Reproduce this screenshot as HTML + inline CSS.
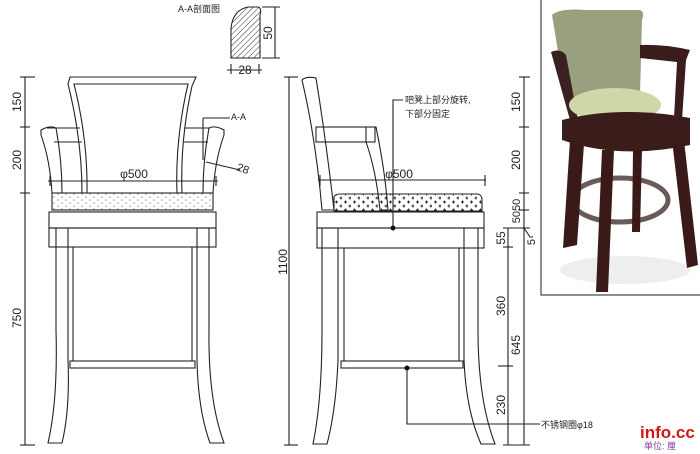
<!DOCTYPE html>
<html><head><meta charset="utf-8"><style>
html,body{margin:0;padding:0;background:#fff;width:700px;height:454px;overflow:hidden}
text{font-family:"Liberation Sans","Noto Sans CJK SC",sans-serif;fill:#222}
</style></head><body>
<svg width="700" height="454" viewBox="0 0 700 454" xmlns="http://www.w3.org/2000/svg">
<defs>
<pattern id="dots" width="8" height="6" patternUnits="userSpaceOnUse"><circle cx="2" cy="2" r="0.8" fill="#999"/><circle cx="6" cy="5" r="0.8" fill="#999"/></pattern>
<pattern id="cross" width="9" height="8" patternUnits="userSpaceOnUse"><path d="M2 2h3M3.5 0.5v3M6.5 6h3M8 4.5v3" stroke="#222" stroke-width="0.9"/></pattern>
<pattern id="hatch" width="4" height="4" patternUnits="userSpaceOnUse" patternTransform="rotate(45)"><line x1="0" y1="0" x2="0" y2="4" stroke="#333" stroke-width="1"/></pattern>
</defs>
<g fill="none" stroke="#222" stroke-width="1.1">
<!-- FRONT VIEW -->
<line x1="25" y1="77" x2="25" y2="445"/>
<line x1="20" y1="77" x2="35" y2="77"/><line x1="20" y1="127" x2="30" y2="127"/><line x1="20" y1="193" x2="30" y2="193"/><line x1="20" y1="445" x2="35" y2="445"/>
<path d="M70 77 L196 77 L192 86 Q180 140 182 193 L177 193 Q175 140 188 84 L74 84 Q88 140 87 193 L82 193 Q82 140 68 84 Z"/>
<line x1="74" y1="84" x2="188" y2="84"/>
<path d="M41 130 Q50 125 56 128 Q62 160 62 193 L52 193 Q50 160 41 135 Z"/>
<path d="M224 130 Q215 125 209 128 Q203 160 203 193 L213 193 Q215 160 224 135 Z"/>
<line x1="47" y1="128" x2="80" y2="128"/><line x1="54" y1="142" x2="82" y2="142"/>
<line x1="185" y1="128" x2="210" y2="128"/><line x1="184" y1="142" x2="208" y2="142"/>
<line x1="203" y1="118" x2="203" y2="160"/><line x1="203" y1="118" x2="230" y2="118"/>
<line x1="206" y1="162" x2="240" y2="170"/>
<line x1="48" y1="181" x2="218" y2="181"/><line x1="50" y1="176" x2="50" y2="186"/><line x1="216" y1="176" x2="216" y2="186"/>
<rect x="52" y="193" width="161" height="17" fill="url(#dots)"/>
<rect x="49" y="212" width="167" height="16"/>
<rect x="49" y="228" width="167" height="19"/>
<path d="M56 228 L68 228 L68 360 Q70 410 62 443 L48 443 Q58 400 56 330 Z"/>
<path d="M197 228 L209 228 L209 330 Q208 400 224 443 L210 443 Q198 410 197 360 Z"/>
<line x1="73" y1="247" x2="73" y2="361"/><line x1="192" y1="247" x2="192" y2="361"/>
<rect x="70" y="361" width="125" height="7"/>
<path d="M231 58 L231 28 Q233 10 248 7 L258 7 Q262 8 260 15 L260 58 Z" fill="url(#hatch)"/>
<line x1="275" y1="7" x2="275" y2="58"/><line x1="262" y1="7" x2="280" y2="7"/><line x1="262" y1="58" x2="280" y2="58"/>
<line x1="227" y1="70" x2="262" y2="70"/><line x1="231" y1="64" x2="231" y2="74"/><line x1="259" y1="64" x2="259" y2="74"/>

<!-- SIDE VIEW -->
<line x1="289" y1="77" x2="289" y2="445"/><line x1="284" y1="77" x2="298" y2="77"/><line x1="284" y1="445" x2="298" y2="445"/>
<path d="M302 80 Q306 76 316 78 Q326 140 334 210 L322 210 Q316 140 302 80 Z"/>
<rect x="316" y="127" width="59" height="15"/>
<path d="M366 127 L376 127 Q385 170 388 210 L380 210 Q376 170 366 142 Z"/>
<line x1="318" y1="180" x2="486" y2="180"/><line x1="320" y1="175" x2="320" y2="186"/><line x1="485" y1="175" x2="485" y2="186"/>
<path d="M334 211 L334 197 Q335 194 340 194 L478 194 Q482 195 482 200 L482 211 Z" fill="url(#cross)"/>
<rect x="317" y="212" width="167" height="16"/>
<rect x="317" y="228" width="167" height="20"/>
<path d="M322 228 L338 228 L338 360 Q336 410 327 444 L313 444 Q322 400 322 330 Z"/>
<path d="M464 228 L478 228 L478 330 Q478 400 495 444 L481 444 Q466 410 464 360 Z"/>
<line x1="344" y1="248" x2="344" y2="361"/><line x1="459" y1="248" x2="459" y2="361"/>
<rect x="341" y="361" width="122" height="7"/>
<polyline points="393,228 393,100 403,100"/>
<polyline points="407,368 407,424 540,424"/>
<line x1="524" y1="77" x2="524" y2="445"/>
<line x1="519" y1="77" x2="530" y2="77"/><line x1="519" y1="127" x2="529" y2="127"/><line x1="519" y1="193" x2="529" y2="193"/><line x1="519" y1="210" x2="529" y2="210"/><line x1="519" y1="228" x2="529" y2="228"/>
<line x1="508" y1="228" x2="508" y2="445"/>
<line x1="503" y1="228" x2="530" y2="228"/><line x1="503" y1="247" x2="513" y2="247"/><line x1="498" y1="366" x2="513" y2="366"/><line x1="503" y1="445" x2="530" y2="445"/>
<polyline points="524,228 530,237 533,237"/>
<rect x="541" y="-1" width="160" height="296" stroke="#333"/>
</g>
<circle cx="393" cy="228" r="2.5" fill="#111"/><circle cx="407" cy="368" r="2.5" fill="#111"/>
<g font-size="12">
<text transform="translate(21,102) rotate(-90)" text-anchor="middle">150</text>
<text transform="translate(21,160) rotate(-90)" text-anchor="middle">200</text>
<text transform="translate(21,318) rotate(-90)" text-anchor="middle">750</text>
<text x="134" y="178" text-anchor="middle">φ500</text>
<text transform="translate(236,170) rotate(20)" font-size="11">28</text>
<text transform="translate(272,33) rotate(-90)" text-anchor="middle">50</text>
<text x="245" y="74" text-anchor="middle">28</text>
<text transform="translate(287,262) rotate(-90)" text-anchor="middle">1100</text>
<text x="399" y="178" text-anchor="middle">φ500</text>
<text transform="translate(520,102) rotate(-90)" text-anchor="middle">150</text>
<text transform="translate(520,160) rotate(-90)" text-anchor="middle">200</text>
<text transform="translate(520,211) rotate(-90)" text-anchor="middle" font-size="11">5050</text>
<text transform="translate(505,238) rotate(-90)" text-anchor="middle">55</text>
<text transform="translate(505,306) rotate(-90)" text-anchor="middle">360</text>
<text transform="translate(520,345) rotate(-90)" text-anchor="middle">645</text>
<text transform="translate(505,405) rotate(-90)" text-anchor="middle">230</text>
<text transform="translate(535,242) rotate(-90)" text-anchor="middle" font-size="11">5</text>
</g>
<g font-size="9">
<text x="178" y="12">A-A剖面图</text>
<text x="231" y="120">A-A</text>
<text x="405" y="103">吧凳上部分旋转,</text>
<text x="405" y="117">下部分固定</text>
<text x="541" y="428">不锈钢圈φ18</text>
</g>
<text x="640" y="438" font-family="Liberation Serif,serif" font-weight="bold" font-size="17" style="fill:#d01818">info.cc</text>
<text x="644" y="449" font-size="9" style="fill:#8a3aa0">单位: 厘</text>
<!-- photo -->
<g>
<ellipse cx="625" cy="270" rx="65" ry="14" fill="#eeeeee"/>
<path d="M552 15 Q560 8 585 10 L640 10 Q645 12 642 20 L640 95 L566 100 Z" fill="#98a080"/>
<path d="M551 52 Q560 48 566 55 L578 120 L570 120 Z" fill="#3a2020"/>
<path d="M640 45 Q665 44 690 50 L686 60 L682 120 L674 118 L677 62 L640 58 Z" fill="#3a1c1a"/>
<ellipse cx="615" cy="105" rx="46" ry="17" fill="#d0d6a8"/>
<path d="M562 120 Q620 105 690 118 L690 145 Q620 160 562 140 Z" fill="#3a1c1a"/>
<ellipse cx="620" cy="200" rx="48" ry="22" fill="none" stroke="#6a5a58" stroke-width="5"/>
<path d="M570 140 L584 144 L577 245 L563 248 Z" fill="#3a1a18"/>
<path d="M602 150 L614 150 L608 292 L596 292 Z" fill="#3a1a18"/>
<path d="M633 150 L642 150 L640 232 L632 232 Z" fill="#3a1a18"/>
<path d="M672 140 L684 140 L698 265 L687 268 Z" fill="#3a1a18"/>
</g>
</svg>
</body></html>
